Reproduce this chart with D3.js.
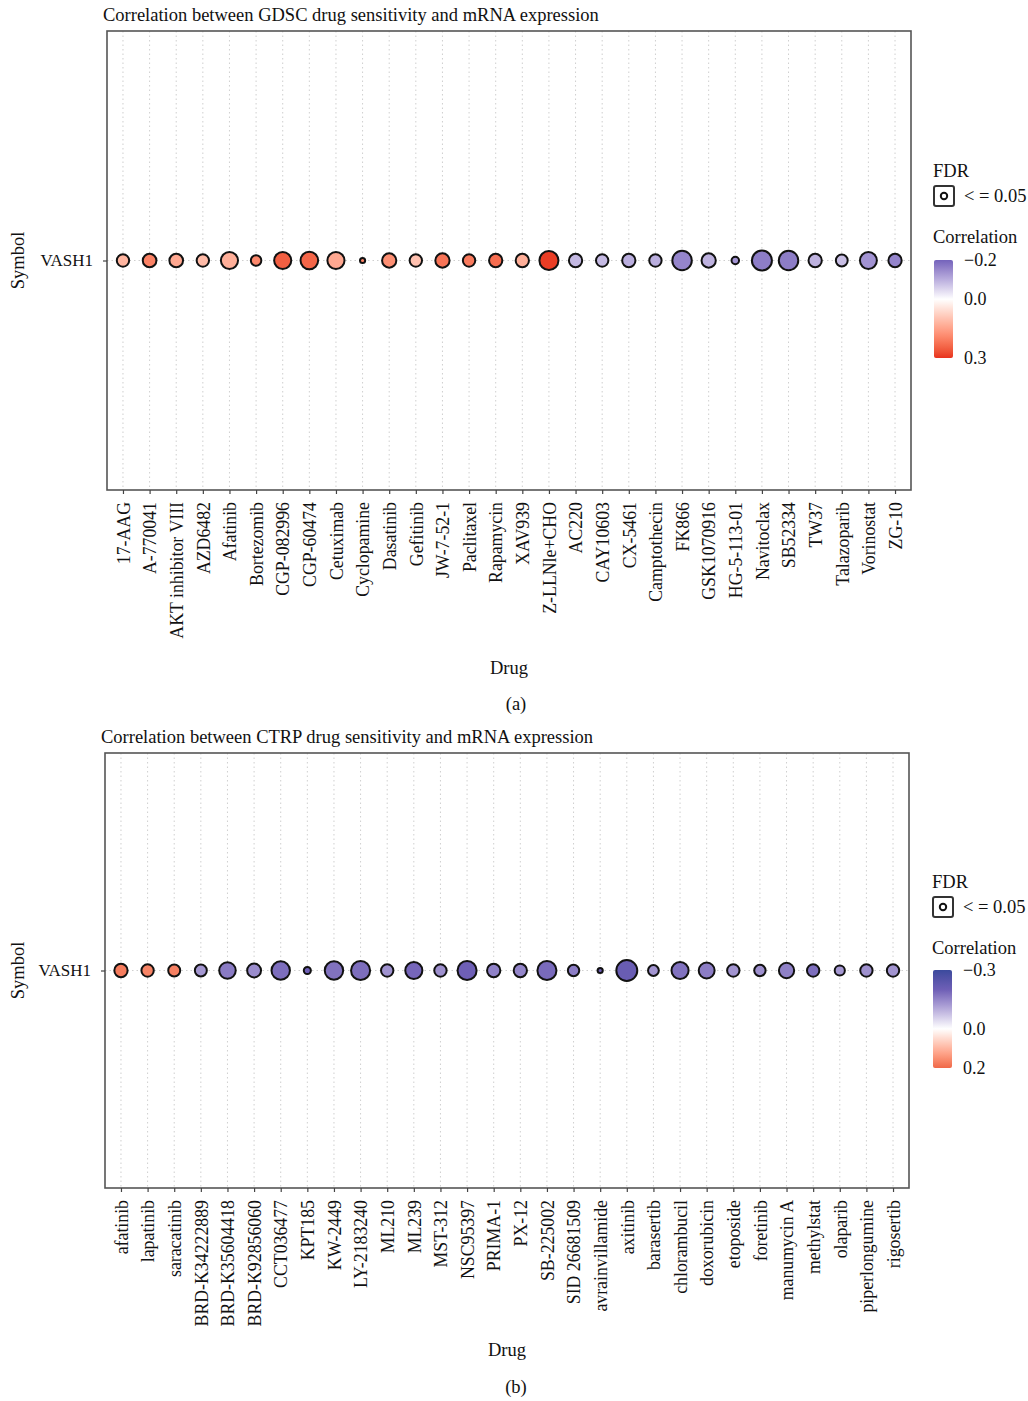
<!DOCTYPE html>
<html>
<head>
<meta charset="utf-8">
<script src="https://cdn.jsdelivr.net/npm/d3@7"></script>
<style>
  html, body { margin: 0; padding: 0; background: #fff; }
  svg text { font-family: "Liberation Serif", "DejaVu Serif", serif; fill: #111; }
</style>
</head>
<body>
<svg id="chart" width="1028" height="1401"></svg>
<script>
// ---------------- DATA ----------------
const genes = ["VASH1"];

const gdscDrugs = ["17-AAG","A-770041","AKT inhibitor VIII","AZD6482","Afatinib","Bortezomib","CGP-082996","CGP-60474","Cetuximab","Cyclopamine","Dasatinib","Gefitinib","JW-7-52-1","Paclitaxel","Rapamycin","XAV939","Z-LLNle+CHO","AC220","CAY10603","CX-5461","Camptothecin","FK866","GSK1070916","HG-5-113-01","Navitoclax","SB52334","TW37","Talazoparib","Vorinostat","ZG-10"];
const gdscCorr = [0.12,0.20,0.14,0.11,0.13,0.19,0.25,0.24,0.14,0.20,0.18,0.10,0.22,0.21,0.23,0.13,0.29,-0.088,-0.085,-0.10,-0.10,-0.154,-0.095,-0.135,-0.165,-0.165,-0.095,-0.08,-0.135,-0.155];
const gdscLogFdr = [4.6,5.6,5.6,4.6,8.8,3.3,8.8,9.3,8.8,0.8,6.1,4.6,6.1,4.6,5.3,5.3,10.9,5.3,4.6,5.3,4.6,11.4,6.1,1.7,12.0,11.4,5.3,4.2,8.6,5.3];

const ctrpDrugs = ["afatinib","lapatinib","saracatinib","BRD-K34222889","BRD-K35604418","BRD-K92856060","CCT036477","KPT185","KW-2449","LY-2183240","ML210","ML239","MST-312","NSC95397","PRIMA-1","PX-12","SB-225002","SID 26681509","avrainvillamide","axitinib","barasertib","chlorambucil","doxorubicin","etoposide","foretinib","manumycin A","methylstat","olaparib","piperlongumine","rigosertib"];
const ctrpCorr = [0.175,0.165,0.17,-0.126,-0.163,-0.14,-0.18,-0.2,-0.175,-0.18,-0.133,-0.19,-0.135,-0.2,-0.155,-0.15,-0.185,-0.16,-0.2,-0.21,-0.13,-0.175,-0.16,-0.13,-0.135,-0.155,-0.18,-0.125,-0.135,-0.13];
const ctrpLogFdr = [5.3,4.6,4.3,4.3,8.2,5.8,10.2,1.5,10.2,10.9,4.6,8.8,4.6,10.9,5.3,5.3,10.9,3.9,0.8,13.2,3.5,8.8,7.6,4.6,3.9,7.0,4.6,3.1,4.6,4.6];

const gdscLegendTicks = [-0.2, 0.0, 0.3];
const ctrpLegendTicks = [-0.3, 0.0, 0.2];
const fdrLegendLabel = "< = 0.05";

// ---------------- DRAWING ----------------
const svg = d3.select("#chart");
const fmt = v => (v < 0 ? "\u2212" : "") + Math.abs(v).toFixed(1);

const sizeScale = d3.scaleSqrt().domain([0, 12]).range([0, 10]);

function drawPanel(cfg) {
  const g = svg.append("g");
  const { box } = cfg;
  const x = d3.scalePoint().domain(cfg.drugs).range([box.x0, box.x1]).padding(0.6);
  const y = d3.scalePoint().domain(genes).range([box.y0, box.y1]).padding(0.5);

  // grid
  g.append("g").selectAll("line").data(cfg.drugs).join("line")
    .attr("x1", d => x(d)).attr("x2", d => x(d))
    .attr("y1", box.y0).attr("y2", box.y1)
    .attr("stroke", "#cfcfcf").attr("stroke-width", 1).attr("stroke-dasharray", "1.5,3");
  g.append("g").selectAll("line").data(genes).join("line")
    .attr("x1", box.x0).attr("x2", box.x1)
    .attr("y1", d => y(d)).attr("y2", d => y(d))
    .attr("stroke", "#cfcfcf").attr("stroke-width", 1).attr("stroke-dasharray", "1.5,3");

  // points
  const pts = cfg.drugs.map((d, i) => ({ drug: d, corr: cfg.corr[i], fdr: cfg.fdr[i] }));
  g.append("g").selectAll("circle").data(pts).join("circle")
    .attr("cx", d => x(d.drug)).attr("cy", y("VASH1"))
    .attr("r", d => sizeScale(d.fdr))
    .attr("fill", d => cfg.color(d.corr))
    .attr("stroke", "#111").attr("stroke-width", 2);

  // border
  g.append("rect").attr("x", box.x0).attr("y", box.y0)
    .attr("width", box.x1 - box.x0).attr("height", box.y1 - box.y0)
    .attr("fill", "none").attr("stroke", "#555").attr("stroke-width", 1.6);

  // x axis
  const xa = g.append("g").attr("transform", `translate(0,${box.y1})`)
    .call(d3.axisBottom(x).tickSize(4).tickSizeOuter(0));
  xa.select(".domain").remove();
  xa.selectAll(".tick line").attr("stroke", "#444").attr("stroke-width", 1.2);
  xa.selectAll(".tick text")
    .attr("transform", "rotate(-90)")
    .attr("x", -12).attr("y", 0).attr("dy", "0.35em")
    .attr("text-anchor", "end")
    .style("font-size", "17.8px").style("font-family", '"Liberation Serif", serif').attr("fill", "#111");

  // y axis
  const ya = g.append("g").attr("transform", `translate(${box.x0},0)`)
    .call(d3.axisLeft(y).tickSize(4).tickSizeOuter(0));
  ya.select(".domain").remove();
  ya.selectAll(".tick line").attr("stroke", "#444").attr("stroke-width", 1.2);
  ya.selectAll(".tick text").attr("x", -14)
    .style("font-size", "17px").style("font-family", '"Liberation Serif", serif').attr("fill", "#111");

  // titles
  g.append("text").attr("x", box.x0 - 4).attr("y", box.y0 - 10)
    .style("font-size", "18.5px").text(cfg.title);
  g.append("text").attr("x", (box.x0 + box.x1) / 2).attr("y", cfg.drugY)
    .attr("text-anchor", "middle").style("font-size", "18.5px").text("Drug");
  g.append("text").attr("transform", `translate(24,${(box.y0 + box.y1) / 2}) rotate(-90)`)
    .attr("text-anchor", "middle").style("font-size", "18.5px").text("Symbol");
  g.append("text").attr("x", cfg.tagX).attr("y", cfg.tagY)
    .attr("text-anchor", "middle").style("font-size", "18.5px").text(cfg.tag);

  // legend
  const L = cfg.legend;
  g.append("text").attr("x", L.x).attr("y", L.fdrY).style("font-size", "18.5px").text("FDR");
  g.append("rect").attr("x", L.x + 1).attr("y", L.fdrY + 9).attr("width", 20).attr("height", 20)
    .attr("rx", 2).attr("fill", "#fff").attr("stroke", "#333").attr("stroke-width", 2);
  g.append("circle").attr("cx", L.x + 11).attr("cy", L.fdrY + 19).attr("r", 3.2)
    .attr("fill", "#fff").attr("stroke", "#111").attr("stroke-width", 2);
  g.append("text").attr("x", L.x + 31).attr("y", L.fdrY + 25).style("font-size", "18.5px").text(fdrLegendLabel);

  g.append("text").attr("x", L.x).attr("y", L.corrY).style("font-size", "18.5px").text("Correlation");
  const ticks = cfg.legendTicks;
  const ly = d3.scaleLinear().domain([ticks[0], ticks[ticks.length - 1]]).range([L.barY0, L.barY1]);
  const gid = "grad-" + cfg.tag.replace(/\W/g, "");
  const grad = svg.append("defs").append("linearGradient").attr("id", gid)
    .attr("x1", 0).attr("x2", 0).attr("y1", 0).attr("y2", 1);
  d3.range(0, 1.0001, 0.05).forEach(t => {
    const v = ticks[0] + t * (ticks[ticks.length - 1] - ticks[0]);
    grad.append("stop").attr("offset", t).attr("stop-color", cfg.color(v));
  });
  g.append("rect").attr("x", L.x + 1).attr("y", L.barY0).attr("width", 19)
    .attr("height", L.barY1 - L.barY0).attr("rx", 2).attr("fill", `url(#${gid})`);
  g.append("g").selectAll("text").data(ticks).join("text")
    .attr("x", L.x + 31).attr("y", d => ly(d)).attr("dy", "0.32em")
    .style("font-size", "18px").text(d => fmt(d));
}

drawPanel({
  drugs: gdscDrugs, corr: gdscCorr, fdr: gdscLogFdr,
  color: d3.scaleLinear().domain([-0.2, 0, 0.3]).range(["#7463bb", "#ffffff", "#e8321e"]).interpolate(d3.interpolateLab),
  box: { x0: 107, x1: 911, y0: 31, y1: 490 },
  title: "Correlation between GDSC drug sensitivity and mRNA expression",
  drugY: 674, tag: "(a)", tagX: 516, tagY: 710,
  legend: { x: 933, fdrY: 177, corrY: 243, barY0: 260, barY1: 358 },
  legendTicks: gdscLegendTicks
});

drawPanel({
  drugs: ctrpDrugs, corr: ctrpCorr, fdr: ctrpLogFdr,
  color: d3.scaleLinear().domain([-0.3, -0.2, 0, 0.2]).range(["#3b4a9d", "#6e5fb6", "#ffffff", "#f06848"]).interpolate(d3.interpolateLab),
  box: { x0: 105, x1: 909, y0: 753, y1: 1188 },
  title: "Correlation between CTRP drug sensitivity and mRNA expression",
  drugY: 1356, tag: "(b)", tagX: 516, tagY: 1393,
  legend: { x: 932, fdrY: 888, corrY: 954, barY0: 970, barY1: 1068 },
  legendTicks: ctrpLegendTicks
});
</script>
</body>
</html>
